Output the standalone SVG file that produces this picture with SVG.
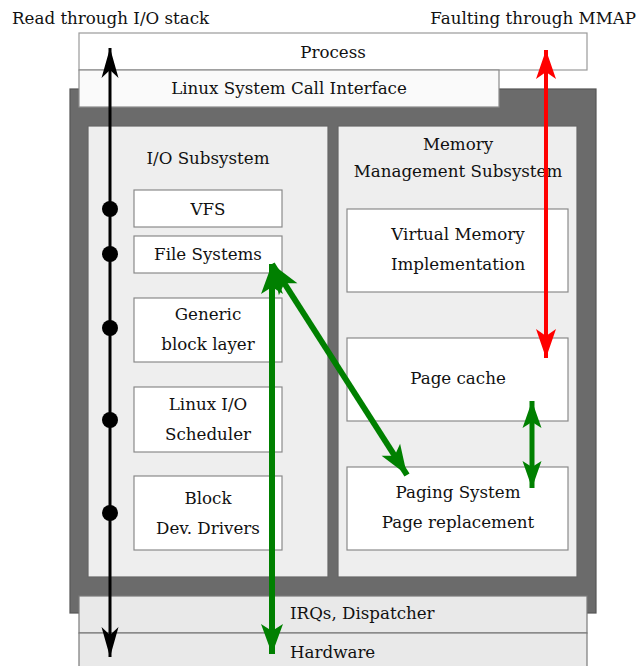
<svg xmlns="http://www.w3.org/2000/svg" width="638" height="666" viewBox="0 0 638 666">
  <style>
    text { font-family: "DejaVu Serif", "Liberation Serif", serif; font-size: 16.7px; fill: #111; }
    .c { text-anchor: middle; }
    .box { fill: #ffffff; stroke: #8a8a8a; stroke-width: 1.2; }
    .panel { fill: #eeeeee; stroke: #666666; stroke-width: 1.2; }
    .band { fill: #e9e9e9; stroke: #7a7a7a; stroke-width: 1.2; }
    .dot { fill: #000; }
  </style>
  <defs>
    <marker id="headBlack" markerUnits="userSpaceOnUse" viewBox="-30 -9 31 18" refX="0" refY="0" markerWidth="31" markerHeight="18" orient="auto-start-reverse">
      <path d="M0,0 L-30,-8.5 L-22,0 L-30,8.5 Z" fill="#000"/>
    </marker>
    <marker id="headRed" markerUnits="userSpaceOnUse" viewBox="-30 -11 31 22" refX="0" refY="0" markerWidth="31" markerHeight="22" orient="auto-start-reverse">
      <path d="M0,0 L-29,-10 L-22,0 L-29,10 Z" fill="#ff0000"/>
    </marker>
    <marker id="headGreen" markerUnits="userSpaceOnUse" viewBox="-32 -13 33 26" refX="0" refY="0" markerWidth="33" markerHeight="26" orient="auto-start-reverse">
      <path d="M0,0 L-30,-11 L-23,0 L-30,11 Z" fill="#008000"/>
    </marker>
    <marker id="headGreenSmall" markerUnits="userSpaceOnUse" viewBox="-28 -11 29 22" refX="0" refY="0" markerWidth="29" markerHeight="22" orient="auto-start-reverse">
      <path d="M0,0 L-27,-9.5 L-21,0 L-27,9.5 Z" fill="#008000"/>
    </marker>
  </defs>

  <!-- kernel frame -->
  <rect id="kernel" x="70" y="89" width="526" height="524" fill="#6b6b6b" stroke="#555" stroke-width="1.2"/>

  <!-- user-space layers -->
  <g id="process">
    <rect x="79" y="33" width="508" height="37" fill="#ffffff" stroke="#9a9a9a" stroke-width="1.2"/>
    <text class="c" x="333" y="58">Process</text>
  </g>
  <g id="syscall">
    <rect x="79" y="70" width="420" height="37" fill="#fafafa" stroke="#8a8a8a" stroke-width="1.2"/>
    <text class="c" x="289" y="94">Linux System Call Interface</text>
  </g>

  <!-- I/O subsystem -->
  <g id="io-subsystem">
    <rect class="panel" x="88" y="126" width="240" height="451"/>
    <text class="c" x="208" y="164">I/O Subsystem</text>
  </g>
  <g id="vfs">
    <rect class="box" x="134" y="190" width="148" height="37"/>
    <text class="c" x="208" y="215">VFS</text>
  </g>
  <g id="file-systems">
    <rect class="box" x="134" y="236" width="148" height="37"/>
    <text class="c" x="208" y="260">File Systems</text>
  </g>
  <g id="generic-block">
    <rect class="box" x="134" y="298" width="148" height="64"/>
    <text class="c" x="208" y="320">Generic</text>
    <text class="c" x="208" y="350">block layer</text>
  </g>
  <g id="io-scheduler">
    <rect class="box" x="134" y="387" width="148" height="65"/>
    <text class="c" x="208" y="410">Linux I/O</text>
    <text class="c" x="208" y="440">Scheduler</text>
  </g>
  <g id="block-drivers">
    <rect class="box" x="134" y="476" width="148" height="74"/>
    <text class="c" x="208" y="504">Block</text>
    <text class="c" x="208" y="534">Dev. Drivers</text>
  </g>

  <!-- memory management subsystem -->
  <g id="mm-subsystem">
    <rect class="panel" x="338" y="126" width="239" height="451"/>
    <text class="c" x="458" y="150">Memory</text>
    <text class="c" x="458" y="177">Management Subsystem</text>
  </g>
  <g id="virtual-memory">
    <rect class="box" x="347" y="209" width="221" height="83"/>
    <text class="c" x="458" y="240">Virtual Memory</text>
    <text class="c" x="458" y="270">Implementation</text>
  </g>
  <g id="page-cache">
    <rect class="box" x="347" y="338" width="221" height="83"/>
    <text class="c" x="458" y="384">Page cache</text>
  </g>
  <g id="paging-system">
    <rect class="box" x="347" y="467" width="221" height="83"/>
    <text class="c" x="458" y="498">Paging System</text>
    <text class="c" x="458" y="528">Page replacement</text>
  </g>

  <!-- lower layers -->
  <g id="irqs">
    <rect class="band" x="79" y="596" width="508" height="37"/>
    <text x="290" y="619">IRQs, Dispatcher</text>
  </g>
  <g id="hardware">
    <rect class="band" x="79" y="633" width="508" height="40" fill="#ebebeb"/>
    <text x="290" y="658">Hardware</text>
  </g>

  <!-- path titles -->
  <text x="12" y="24">Read through I/O stack</text>
  <text x="636" y="24" text-anchor="end">Faulting through MMAP</text>

  <!-- connectors -->
  <g id="connectors">
    <line x1="110" y1="48" x2="110" y2="657" stroke="#000" stroke-width="3" marker-start="url(#headBlack)" marker-end="url(#headBlack)"/>
    <circle class="dot" cx="110" cy="209" r="8"/>
    <circle class="dot" cx="110" cy="254" r="8"/>
    <circle class="dot" cx="110" cy="328" r="8"/>
    <circle class="dot" cx="110" cy="420" r="8"/>
    <circle class="dot" cx="110" cy="513" r="8"/>

    <line x1="546" y1="50" x2="546" y2="358" stroke="#ff0000" stroke-width="4" marker-start="url(#headRed)" marker-end="url(#headRed)"/>

    <line x1="272" y1="264" x2="272" y2="654" stroke="#008000" stroke-width="6" marker-start="url(#headGreen)" marker-end="url(#headGreen)"/>
    <line x1="272" y1="264" x2="407" y2="475" stroke="#008000" stroke-width="6" marker-start="url(#headGreen)" marker-end="url(#headGreen)"/>

    <line x1="532" y1="401" x2="532" y2="488" stroke="#008000" stroke-width="5" marker-start="url(#headGreenSmall)" marker-end="url(#headGreenSmall)"/>
  </g>
</svg>
